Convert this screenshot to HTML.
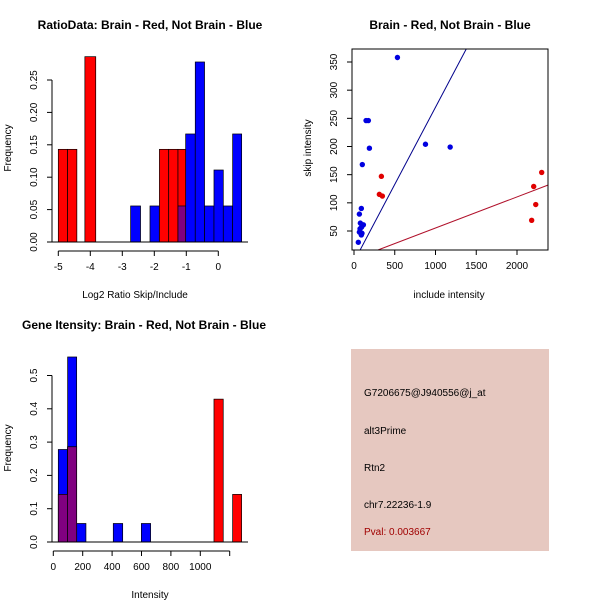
<!DOCTYPE html>
<html><head><meta charset="utf-8"><style>
html,body{margin:0;padding:0;background:#fff;}
svg{display:block;font-family:"Liberation Sans",Arial,sans-serif;}
</style></head><body>
<svg id="s" width="600" height="600" viewBox="0 0 600 600" xmlns="http://www.w3.org/2000/svg">
<rect x="0" y="0" width="600" height="600" fill="#fff"/>
<text x="150" y="29" font-size="12" font-weight="bold" text-anchor="middle">RatioData: Brain - Red, Not Brain - Blue</text>
<text x="450" y="29" font-size="12" font-weight="bold" text-anchor="middle">Brain - Red, Not Brain - Blue</text>
<text x="144" y="329" font-size="12" font-weight="bold" text-anchor="middle">Gene Itensity: Brain - Red, Not Brain - Blue</text>
<text x="135" y="298" font-size="10" text-anchor="middle">Log2 Ratio Skip/Include</text>
<text x="11" y="148" font-size="10" text-anchor="middle" transform="rotate(-90 11 148)">Frequency</text>
<text x="449" y="298" font-size="10" text-anchor="middle">include intensity</text>
<text x="311" y="148" font-size="10" text-anchor="middle" transform="rotate(-90 311 148)">skip intensity</text>
<text x="150" y="598" font-size="10" text-anchor="middle">Intensity</text>
<text x="11" y="448" font-size="10" text-anchor="middle" transform="rotate(-90 11 448)">Frequency</text>
<g>
<rect x="351" y="349" width="198" height="202" fill="#e6c8c0"/>
<text x="364" y="396" font-size="10">G7206675@J940556@j_at</text>
<text x="364" y="434" font-size="10">alt3Prime</text>
<text x="364" y="471" font-size="10">Rtn2</text>
<text x="364" y="508" font-size="10">chr7.22236-1.9</text>
<text x="364" y="535" font-size="10" fill="#a00000">Pval: 0.003667</text>
</g>
<g id="h1"></g>
<g id="sc"></g>
<g id="h2"></g>
</svg>
<script>
// Ratio histogram data: [left, right, freq]
const ratioRed = [[-5,-4.71,0.143],[-4.71,-4.42,0.143],[-4.17,-3.83,0.286],[-1.84,-1.55,0.143],[-1.55,-1.26,0.143],[-1.26,-1.02,0.143]];
const ratioBlue = [[-2.74,-2.43,0.0556],[-2.135,-1.844,0.0556],[-1.26,-1.02,0.0556],[-1.02,-0.72,0.1667],[-0.72,-0.43,0.2778],[-0.43,-0.135,0.0556],[-0.135,0.156,0.1111],[0.156,0.448,0.0556],[0.448,0.73,0.1667]];
const ratioXTicks = [-5,-4,-3,-2,-1,0];
const ratioYTicks = ["0.00","0.05","0.10","0.15","0.20","0.25"];
// Intensity histogram
const intRed = [[34,97.5,0.143],[97.5,159,0.286],[1093,1156,0.429],[1220,1281,0.143]];
const intBlue = [[34,97.5,0.2778],[97.5,159,0.5556],[159,222,0.0556],[408,472,0.0556],[599,662,0.0556]];
const intXTicks = [0,200,400,600,800,1000,1200];
const intXLabels = ["0","200","400","600","800","1000",""];
const intYTicks = ["0.0","0.1","0.2","0.3","0.4","0.5"];
// Scatter
const blueX = [533,148,176,189,877,1180,102,90,66,78,115,94,74,66,98,90,53];
const blueY = [358,246,246,197,204,199,168,90,80,64,61,57,54,48,46,43,30];
const redX = [336,311,348,2303,2205,2230,2180];
const redY = [147,115,112,154,129,97,69];
const blueFit = [-4.3,0.274];
const redFit = [0.1,0.0552];
const scXTicks = [0,500,1000,1500,2000];
const scYTicks = [50,100,150,200,250,300,350];

const NS="http://www.w3.org/2000/svg";
function mk(parent,tag,attrs){const e=document.createElementNS(NS,tag);for(const k in attrs)e.setAttribute(k,attrs[k]);parent.appendChild(e);return e;}

function hist(g,red,blue,sx,sy,base,xt,xl,yt,ytx,axisY){
  blue.forEach(b=>{const r=mk(g,'rect',{x:sx(b[0]),y:sy(b[2]),width:sx(b[1])-sx(b[0]),height:base-sy(b[2]),fill:'#0000ff',stroke:'#000','stroke-width':0.7});
    
    });
  red.forEach(b=>{const r=mk(g,'rect',{x:sx(b[0]),y:sy(b[2]),width:sx(b[1])-sx(b[0]),height:base-sy(b[2]),fill:'#ff0000',stroke:'#000','stroke-width':0.7});
    
    });
  blue.forEach(b=>{red.forEach(c=>{const l=Math.max(b[0],c[0]),r2=Math.min(b[1],c[1]);
    if(r2-l>0.01){const h=Math.min(b[2],c[2]);const r=mk(g,'rect',{x:sx(l),y:sy(h),width:sx(r2)-sx(l),height:base-sy(h),fill:'#800080',stroke:'#000','stroke-width':0.7});
      
      }});});
  const bl=mk(g,'line',{x1:52,x2:248,y1:base,y2:base,stroke:'#000','stroke-width':1});
  
  
  const ax=mk(g,'line',{x1:sx(xt[0]),x2:sx(xt[xt.length-1]),y1:axisY,y2:axisY,stroke:'#000'});
  
  
  xt.forEach((v,i)=>{mk(g,'line',{x1:sx(v),x2:sx(v),y1:axisY,y2:axisY+5,stroke:'#000'});
    const t=mk(g,'text',{x:sx(v),y:axisY+19,'font-size':10,'text-anchor':'middle'});t.textContent=xl[i];
    
    });
  const yv=yt.map(Number);
  const ay=mk(g,'line',{x1:52,x2:52,y1:sy(yv[0]),y2:sy(yv[yv.length-1]),stroke:'#000'});
  
  
  yt.forEach(s=>{const v=Number(s);mk(g,'line',{x1:47,x2:52,y1:sy(v),y2:sy(v),stroke:'#000'});
    const t=mk(g,'text',{x:ytx,y:sy(v),'font-size':10,'text-anchor':'middle',transform:`rotate(-90 ${ytx} ${sy(v)})`});t.textContent=s;
    
    });
}
hist(document.getElementById('h1'),ratioRed,ratioBlue,v=>218.3+v*32,v=>242-v*648,242,ratioXTicks,ratioXTicks.map(String),ratioYTicks,37,251);
hist(document.getElementById('h2'),intRed,intBlue,v=>53.3+v*0.147,v=>542-v*333,542,intXTicks,intXLabels,intYTicks,37,551);

(function(){
  const g=document.getElementById('sc');
  const L=352,R=548,T=49,B=250;
  const sx=v=>354+v*0.0815, sy=v=>231-(v-50)*0.5633;
  const cp=mk(g,'clipPath',{id:'scclip'});mk(cp,'rect',{x:L,y:T,width:R-L,height:B-T});
  [[blueFit,'#00008b','blue-fit-line'],[redFit,'#b0102a','red-fit-line']].forEach(f=>{
    const x0=-200,x1=2600;
    const l=mk(g,'line',{x1:sx(x0),y1:sy(f[0][0]+f[0][1]*x0),x2:sx(x1),y2:sy(f[0][0]+f[0][1]*x1),stroke:f[1],'stroke-width':1,'clip-path':'url(#scclip)'});
    
    });
  blueX.forEach((x,i)=>{const c=mk(g,'circle',{cx:sx(x),cy:sy(blueY[i]),r:2.7,fill:'#0000e0'});
    
    });
  redX.forEach((x,i)=>{const c=mk(g,'circle',{cx:sx(x),cy:sy(redY[i]),r:2.7,fill:'#e00000'});
    
    });
  const bx=mk(g,'rect',{x:L,y:T,width:R-L,height:B-T,fill:'none',stroke:'#000'});
  
  
  scXTicks.forEach(v=>{mk(g,'line',{x1:sx(v),x2:sx(v),y1:B,y2:B+5,stroke:'#000'});
    const t=mk(g,'text',{x:sx(v),y:B+19,'font-size':10,'text-anchor':'middle'});t.textContent=v;
    
    });
  scYTicks.forEach(v=>{mk(g,'line',{x1:L-5,x2:L,y1:sy(v),y2:sy(v),stroke:'#000'});
    const t=mk(g,'text',{x:337,y:sy(v),'font-size':10,'text-anchor':'middle',transform:`rotate(-90 337 ${sy(v)})`});t.textContent=v;
    
    });
})();
</script>
</body></html>
